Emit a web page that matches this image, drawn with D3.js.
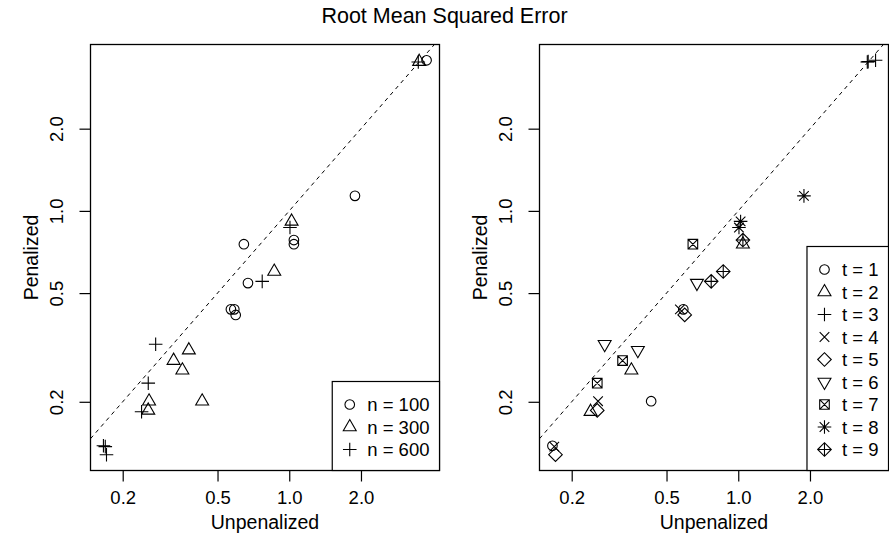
<!DOCTYPE html>
<html>
<head>
<meta charset="utf-8">
<script src="https://cdn.jsdelivr.net/npm/d3@7"></script>
<style>
  body { margin: 0; background: #fff; }
  text { font-family: "Liberation Sans", Arial, Helvetica, sans-serif; fill: #000; }
</style>
</head>
<body>
<svg id="chart" width="889" height="543"></svg>
<script>
const tValues = [1, 2, 3, 4, 5, 6, 7, 8, 9];
const sampleSizes = [100, 300, 600];

// RMSE per t (index 0 -> t = 1)
const unpen100 = [0.588, 1.046, 3.77, 0.569, 0.596, 0.671, 0.645, 1.887, 1.046];
const pen100   = [0.436, 0.755, 3.56, 0.436, 0.416, 0.544, 0.755, 1.135, 0.782];
const unpen300 = [0.431, 0.356, 3.51, 0.258, 0.256, 0.379, 0.327, 1.023, 0.865];
const pen300   = [0.201, 0.261, 3.52, 0.201, 0.186, 0.309, 0.283, 0.915, 0.600];
const unpen600 = [0.166, 0.240, 3.48, 0.169, 0.171, 0.275, 0.256, 1.007, 0.770];
const pen600   = [0.138, 0.184, 3.51, 0.137, 0.128, 0.325, 0.234, 0.869, 0.552];

const tickValues = [0.2, 0.5, 1, 2];
const tickLabels = ['0.2', '0.5', '1.0', '2.0'];

const nSymbols = ['circle', 'triangle', 'plus'];
const tSymbols = ['circle', 'triangle', 'plus', 'cross', 'diamond', 'triangleDown', 'squareCross', 'asterisk', 'diamondPlus'];

const unpen = [unpen100, unpen300, unpen600];
const pen = [pen100, pen300, pen600];
const points = [];
sampleSizes.forEach((n, ni) => {
  tValues.forEach((t, ti) => {
    points.push({ x: unpen[ni][ti], y: pen[ni][ti], ni, ti });
  });
});

// R style log axis limits: data range widened by 4% each side
function logLimits(ext) {
  const a = Math.log10(ext[0]), b = Math.log10(ext[1]), d = (b - a) * 0.04;
  return [Math.pow(10, a - d), Math.pow(10, b + d)];
}

const xDomain = logLimits(d3.extent(points, d => d.x));
const yDomain = logLimits(d3.extent(points, d => d.y));

const plotTop = 44.5, plotBottom = 470.5, panelW = 349;
const panels = [
  { x0: 90.5, symbolOf: d => nSymbols[d.ni], legendSymbols: nSymbols, legendLabels: sampleSizes.map(n => 'n = ' + n) },
  { x0: 539.5, symbolOf: d => tSymbols[d.ti], legendSymbols: tSymbols, legendLabels: tValues.map(t => 't = ' + t) }
];

const svg = d3.select('#chart');
const fontTick = 18.5, fontLab = 19.5, fontLegend = 18.5;

svg.append('text')
  .attr('x', 444.5).attr('y', 23)
  .attr('text-anchor', 'middle')
  .style('font-size', '21.5px')
  .text('Root Mean Squared Error');

function symbolPath(type, s) {
  const p = d3.path();
  const r2 = Math.SQRT2 * s;
  const tr = 1.5551 * s, th = 1.3468 * s, tb = 0.7776 * s;
  const cross = (c) => { p.moveTo(-c, -c); p.lineTo(c, c); p.moveTo(-c, c); p.lineTo(c, -c); };
  const plus = (c) => { p.moveTo(-c, 0); p.lineTo(c, 0); p.moveTo(0, -c); p.lineTo(0, c); };
  const diamond = (c) => { p.moveTo(-c, 0); p.lineTo(0, -c); p.lineTo(c, 0); p.lineTo(0, c); p.closePath(); };
  switch (type) {
    case 'circle': p.moveTo(s, 0); p.arc(0, 0, s, 0, 2 * Math.PI); break;
    case 'triangle': p.moveTo(0, -tr); p.lineTo(th, tb); p.lineTo(-th, tb); p.closePath(); break;
    case 'triangleDown': p.moveTo(0, tr); p.lineTo(th, -tb); p.lineTo(-th, -tb); p.closePath(); break;
    case 'plus': plus(r2); break;
    case 'cross': cross(s); break;
    case 'diamond': diamond(r2); break;
    case 'squareCross': p.rect(-s, -s, 2 * s, 2 * s); cross(s); break;
    case 'asterisk': cross(s); plus(r2); break;
    case 'diamondPlus': diamond(r2); plus(r2); break;
  }
  return p.toString();
}

const symSize = 4.8;

panels.forEach(panel => {
  const x = d3.scaleLog().domain(xDomain).range([panel.x0, panel.x0 + panelW]);
  const y = d3.scaleLog().domain(yDomain).range([plotBottom, plotTop]);
  const g = svg.append('g');

  // y = x reference line
  const lo = Math.max(xDomain[0], yDomain[0]), hi = Math.min(xDomain[1], yDomain[1]);
  g.append('line')
    .attr('x1', x(lo)).attr('y1', y(lo))
    .attr('x2', x(hi)).attr('y2', y(hi))
    .attr('stroke', '#000').attr('stroke-width', 1)
    .attr('stroke-dasharray', '4,4');

  g.selectAll('.pt')
    .data(points)
    .enter().append('path')
    .attr('class', 'pt')
    .attr('transform', d => `translate(${x(d.x)},${y(d.y)})`)
    .attr('d', d => symbolPath(panel.symbolOf(d), symSize))
    .attr('fill', 'none')
    .attr('stroke', '#000')
    .attr('stroke-width', 1.1);

  // axes
  const xAxis = g.append('g')
    .attr('transform', `translate(0,${plotBottom})`)
    .call(d3.axisBottom(x).tickValues(tickValues).tickFormat((d, i) => tickLabels[i]).tickSize(11).tickPadding(9));
  xAxis.select('.domain').remove();
  xAxis.selectAll('text').style('font-size', fontTick + 'px').attr('fill', '#000');
  xAxis.selectAll('line').attr('stroke-width', 1.2);
  xAxis.attr('font-family', null);

  const yAxis = g.append('g')
    .attr('transform', `translate(${panel.x0},0)`)
    .call(d3.axisLeft(y).tickValues(tickValues).tickFormat((d, i) => tickLabels[i]).tickSize(11));
  yAxis.select('.domain').remove();
  yAxis.attr('font-family', null);
  yAxis.selectAll('line').attr('stroke-width', 1.2);
  yAxis.selectAll('text')
    .attr('x', null).attr('dy', null)
    .attr('text-anchor', 'middle')
    .attr('transform', 'translate(-28,0) rotate(-90)')
    .style('font-size', fontTick + 'px');

  // frame
  g.append('rect')
    .attr('x', panel.x0).attr('y', plotTop)
    .attr('width', panelW).attr('height', plotBottom - plotTop)
    .attr('fill', 'none').attr('stroke', '#000').attr('stroke-width', 1.3);

  g.append('text')
    .attr('x', panel.x0 + panelW / 2).attr('y', 529)
    .attr('text-anchor', 'middle')
    .style('font-size', fontLab + 'px')
    .text('Unpenalized');

  g.append('text')
    .attr('transform', `translate(${panel.x0 - 53},${(plotTop + plotBottom) / 2}) rotate(-90)`)
    .attr('text-anchor', 'middle')
    .style('font-size', fontLab + 'px')
    .text('Penalized');

  // legend, bottom right
  const rowH = 22.5, padTop = 23, padBottom = 21;
  const k = panel.legendLabels.length;
  const boxH = padTop + (k - 1) * rowH + padBottom;
  const lg = g.append('g');
  const box = lg.append('rect')
    .attr('fill', '#fff').attr('stroke', '#000').attr('stroke-width', 1.2);
  let maxW = 0;
  panel.legendLabels.forEach((lab, i) => {
    const cy = padTop + i * rowH;
    lg.append('path')
      .attr('transform', `translate(17.5,${cy})`)
      .attr('d', symbolPath(panel.legendSymbols[i], symSize))
      .attr('fill', 'none').attr('stroke', '#000').attr('stroke-width', 1.1);
    const t = lg.append('text')
      .attr('x', 35).attr('y', cy).attr('dy', '0.36em')
      .style('font-size', fontLegend + 'px')
      .text(lab);
    maxW = Math.max(maxW, t.node().getComputedTextLength());
  });
  const boxW = 35 + maxW + 10;
  box.attr('x', 0).attr('y', 0).attr('width', boxW).attr('height', boxH);
  lg.attr('transform', `translate(${panel.x0 + panelW - boxW},${plotBottom - boxH})`);
});
</script>
</body>
</html>
